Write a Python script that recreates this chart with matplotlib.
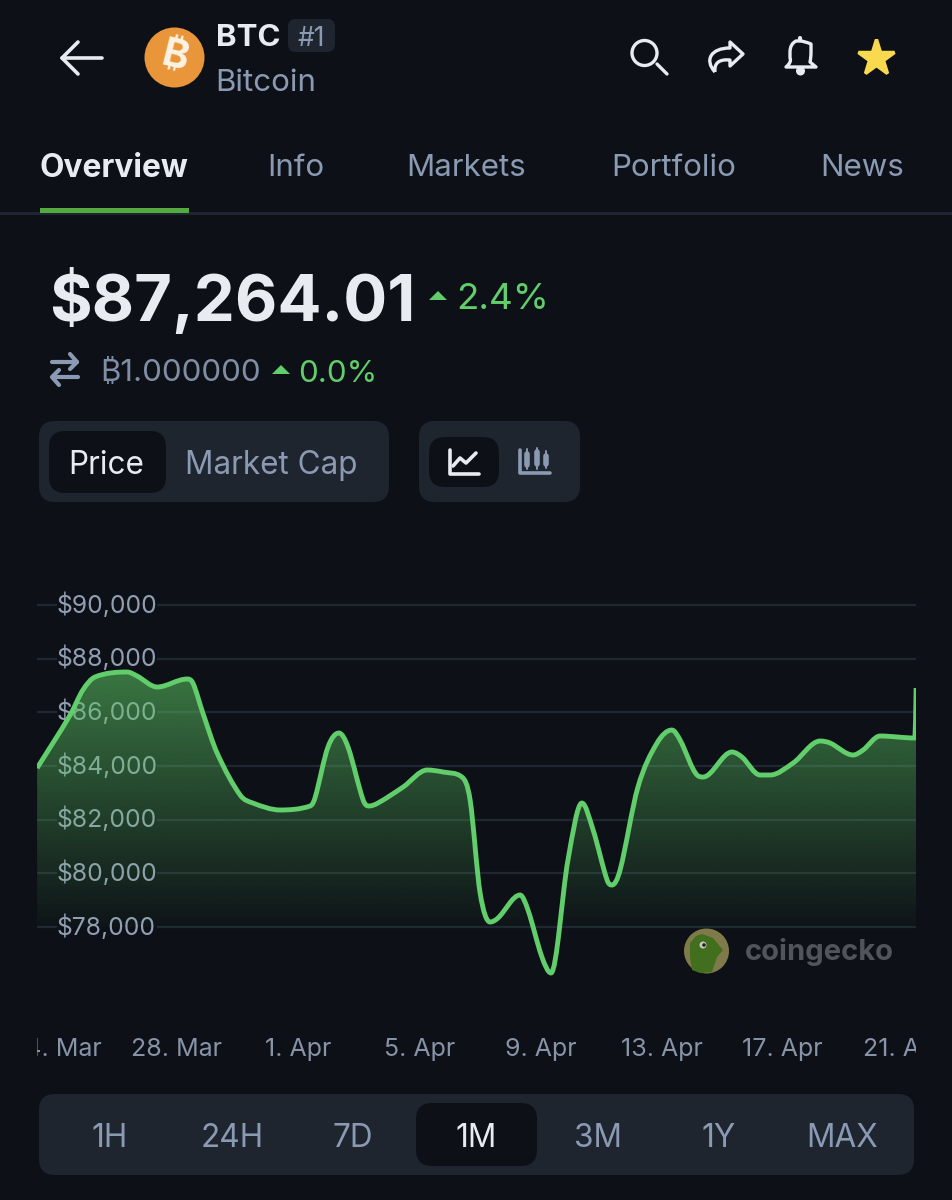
import numpy as np
import matplotlib
matplotlib.use('Agg')
import matplotlib.pyplot as plt
from matplotlib.patches import FancyBboxPatch, Circle, Polygon, PathPatch
from matplotlib.path import Path
from matplotlib.transforms import Bbox

# ---- data ----
days_from_apr1 = [-8.61,-7.52,-7.10,-6.70,-5.64,-5.31,-4.65,-3.66,-3.47,-3.14,-2.67,-1.91,-1.49,-0.59,0.40,0.56,
                  0.99,1.35,1.65,2.15,2.34,2.64,3.47,4.26,4.79,5.41,5.68,6.01,6.34,6.60,7.33,7.59,8.05,8.35,
                  8.91,9.37,9.74,10.20,10.36,10.63,11.22,11.85,12.34,12.61,13.17,13.37,
                  14.32,14.65,15.25,15.58,16.34,17.23,17.56,18.32,18.65,19.21,20.36,20.40]
prices = [83926,85901,86833,87318,87504,87355,86945,87243,87094,85976,84485,82920,82621,82361,82510,82808,
          84709,85230,84709,82733,82510,82621,83218,83851,83777,83590,82733,79267,78186,78335,79193,78634,76882,76286,
          80497,82621,81615,79752,79565,80124,83218,84858,85342,84969,83665,83590,
          84522,84336,83665,83665,84112,84932,84858,84410,84597,85119,85044,86908]
ytick_values = [78000,80000,82000,84000,86000,88000,90000]
ytick_labels = ['$78,000','$80,000','$82,000','$84,000','$86,000','$88,000','$90,000']
xtick_days = [-8,-4,0,4,8,12,16,20]
xtick_labels = ['24. Mar','28. Mar','1. Apr','5. Apr','9. Apr','13. Apr','17. Apr','21. Apr']
tab_names = ['Overview','Info','Markets','Portfolio','News']
range_names = ['1H','24H','7D','1M','3M','1Y','MAX']

BG='#0d1117'; PANEL='#1f252f'; MUTED='#8a9ab3'; WHITE='#e8ebf0'; GREEN='#62cd6b'; GRID='#1f2733'
FONT=['Inter','DejaVu Sans']
plt.rcParams['font.family']=FONT

W,H=953,1200
fig=plt.figure(figsize=(W/100,H/100),dpi=100,facecolor=BG)

# ---- page chrome, in pixel coordinates ----
ui=fig.add_axes([0,0,1,1],zorder=0); ui.set_xlim(0,W); ui.set_ylim(H,0); ui.axis('off')
def box(x0,y0,x1,y1,r,c):
    ui.add_patch(FancyBboxPatch((x0+r,y0+r),x1-x0-2*r,y1-y0-2*r,boxstyle=f'round,pad={r},rounding_size={r}',fc=c,ec='none'))
def T(x,y,s,size,c=MUTED,ha='left',weight='normal',**k):
    return ui.text(x,y+5.5,s,fontsize=size,color=c,ha=ha,va='center',fontweight=weight,**k)
def L(xs,ys,c=WHITE,lw=2.4):
    ui.plot(xs,ys,color=c,lw=lw,solid_capstyle='round',solid_joinstyle='round')

# header
L([62,102],[58,58],WHITE,2.6); L([78,62,78],[42,58,74],WHITE,2.6)
ui.add_patch(Circle((174.5,57.5),30,fc='#e9963a',ec='none'))
T(175,52,'₿',29,'#fdf3e4','center','bold',rotation=-14)
T(216,33,'BTC',22.5,WHITE,weight='bold')
box(288,19,335,52,8,PANEL); T(311.5,33,'#1',19,MUTED,'center')
T(215.5,77.5,'Bitcoin',22.5,MUTED)
ui.add_patch(Circle((644.5,53),12.5,fc='none',ec=WHITE,lw=2.4)); L([657,667],[64,74])
# share icon
share=Path([(715,72),(704,60),(711,48),(730,48),(730,42),(743,54),(730,66),(730,60),(719,59),(714,63),(715,72)],
           [Path.MOVETO,Path.CURVE4,Path.CURVE4,Path.CURVE4,Path.LINETO,Path.LINETO,Path.LINETO,Path.LINETO,Path.CURVE4,Path.CURVE4,Path.CURVE4])
ui.add_patch(PathPatch(share,fc='none',ec=WHITE,lw=2.4,joinstyle='round'))
# bell icon
bell=Path([(786,67),(792,62),(790,58),(790,52),(790,44),(796,41),(800,41),(804,41),(811,44),(811,52),(811,58),(810,62),(816,67),(786,67)],
          [Path.MOVETO,Path.CURVE3,Path.CURVE3,Path.LINETO,Path.CURVE3,Path.CURVE3,Path.LINETO,Path.CURVE3,Path.CURVE3,Path.LINETO,Path.CURVE3,Path.CURVE3,Path.LINETO,Path.CLOSEPOLY])
ui.add_patch(PathPatch(bell,fc='none',ec=WHITE,lw=2.4,joinstyle='round'))
L([800,800],[38,40],WHITE,3); ui.add_patch(Circle((800.5,71),4.5,fc=WHITE,ec='none'))
ui.plot([876],[58],marker='*',ms=27,color='#f9d94d',mec='#f9d94d',mew=2.5,mfc='#f9d94d')

# tabs
for name,x in zip(tab_names,[40,267,406,611,820]):
    T(x,163,name,22.8 if name=='Overview' else 22.5,WHITE if name=='Overview' else MUTED,weight='bold' if name=='Overview' else 'normal')
ui.add_patch(plt.Rectangle((0,212),W,2.5,fc='#1f2633',ec='none'))
ui.add_patch(plt.Rectangle((40,208),149,5,fc='#54a93f',ec='none'))

# price block
T(49,295,'$87,264.01',47,WHITE,weight='bold')
ui.add_patch(Polygon([[429,300],[447,300],[438,291]],fc=GREEN,ec='none'))
T(456,294,'2.4%',26.5,GREEN)
L([52,77],[362,362],MUTED,3); L([70,77,70],[354,362,369],MUTED,3)
L([78,53],[377,377],MUTED,3); L([59,52,59],[370,377,385],MUTED,3)
T(100,368,'₿1.000000',22.5,'#7f8ea5')
ui.add_patch(Polygon([[272,374],[290,374],[281,365]],fc=GREEN,ec='none'))
T(298,368,'0.0%',22.5,GREEN)

# selectors
box(39,421,389,502,16,PANEL); box(49,431,166,493,16,BG)
T(106,460,'Price',22.7,WHITE,'center'); T(185,460,'Market Cap',22.7,MUTED)
box(419,421,580,502,16,PANEL); box(429,437,499,487,16,BG)
L([450,450,479],[450,474,474],WHITE,2.6); L([453,460,466,476],[466,458,463,453],WHITE,2.6)
L([520,520,550],[450,473,473],MUTED,2.6)
for x,a,b,c,d in [(527,449,469,454,465),(537,448,469,452,464),(546,451,468,456,464)]:
    L([x,x],[a,b],MUTED,1.4); L([x,x],[c,d],MUTED,4)

# bottom range selector
box(39,1094,914,1175,16,PANEL); box(416,1103,537,1166,16,BG)
for name,x in zip(range_names,[110,232,353,476,598,719,842]):
    T(x,1133,name,22.7,WHITE if name=='1M' else MUTED,'center')

# watermark
ui.add_patch(Circle((706.5,951),22.5,fc='#7f7a49',ec='none'))
ui.add_patch(Polygon([[690,943],[696,936],[702,934],[713,938],[723,950],[717,957],[712,972],[700,973],[692,970],[690,957]],fc='#426f1d',ec='none'))
ui.add_patch(Circle((703,945),3.5,fc='#c8c8c0',ec='none')); ui.add_patch(Circle((704,945),1.8,fc='#222',ec='none'))
T(745,946,'coingecko',21,'#515459',weight='bold')

# ---- chart ----
top_px,bot_px=590,1065
left_px,right_px=37,916
ax=fig.add_axes([left_px/W,1-bot_px/H,(right_px-left_px)/W,(bot_px-top_px)/H],zorder=1)
ax.patch.set_alpha(0)
PX_PER_DAY=30.3; PX_PER_USD=26.83/1000
xlim=((left_px-298)/PX_PER_DAY,(right_px-298)/PX_PER_DAY)
ylim=(78000-(bot_px-927)/PX_PER_USD,78000+(927-top_px)/PX_PER_USD)
for s in ax.spines.values(): s.set_visible(False)

days=np.array(days_from_apr1); px=np.array(prices,dtype=float)

def spline_path(x,y):
    """Limited monotone cubic through the read points, as Bezier segments (the chart's spline style)."""
    h=np.diff(x); d=np.diff(y)/h
    m=np.zeros_like(y)
    for i in range(1,len(x)-1):
        if d[i-1]*d[i]>0:
            cr=(y[i+1]-y[i-1])/(x[i+1]-x[i-1])
            m[i]=np.sign(cr)*min(abs(cr),3*min(abs(d[i-1]),abs(d[i])))
    m[0]=d[0]; m[-1]=d[-1]
    verts=[(x[0],y[0])]; codes=[Path.MOVETO]
    for i in range(len(x)-1):
        verts+=[(x[i]+h[i]/3,y[i]+m[i]*h[i]/3),(x[i+1]-h[i]/3,y[i+1]-m[i+1]*h[i]/3),(x[i+1],y[i+1])]
        codes+=[Path.CURVE4]*3
    return verts,codes

lab0,lab1=(57-298)/PX_PER_DAY,(157-298)/PX_PER_DAY
for v in ytick_values:   # gridlines, broken behind the labels
    ax.plot([xlim[0],lab0],[v,v],color=GRID,lw=1.6,zorder=1,solid_capstyle='butt')
    ax.plot([lab1,xlim[1]],[v,v],color=GRID,lw=1.6,zorder=1,solid_capstyle='butt')

verts,codes=spline_path(days,px)
area=Path(verts+[(days[-1],78000),(days[0],78000),(days[0],px[0])],codes+[Path.LINETO,Path.LINETO,Path.LINETO])
rgba=np.zeros((256,1,4)); rgba[...,0]=94/255; rgba[...,1]=200/255; rgba[...,2]=100/255
rgba[:,0,3]=np.linspace(0.56,0.02,256)
im=ax.imshow(rgba,extent=[xlim[0],xlim[1],78000,87600],aspect='auto',origin='upper',zorder=2,interpolation='bilinear')
im.set_clip_path(area,ax.transData)
ax.add_patch(PathPatch(Path(verts,codes),fc='none',ec=GREEN,lw=3.5,joinstyle='round',capstyle='butt',zorder=3))
ax.set_xlim(*xlim); ax.set_ylim(*ylim)

ax.set_yticks(ytick_values,ytick_labels)
ax.tick_params(axis='y',length=0,pad=-14.4,labelcolor='#929fb3',labelsize=17.8,direction='in')
for t_ in ax.get_yticklabels():
    t_.set_ha('left'); t_.set_va('center'); t_.set_zorder(5)
ax.set_xticks(xtick_days,xtick_labels)
ax.tick_params(axis='x',length=0,pad=-11,labelcolor='#8793a7',labelsize=18,direction='in')
clip=Bbox([[left_px,0],[right_px,H]])
for t_ in ax.get_xticklabels():
    t_.set_va('center'); t_.set_clip_on(True); t_.set_clip_box(clip)

fig.savefig('out.png',dpi=100,facecolor=BG)
